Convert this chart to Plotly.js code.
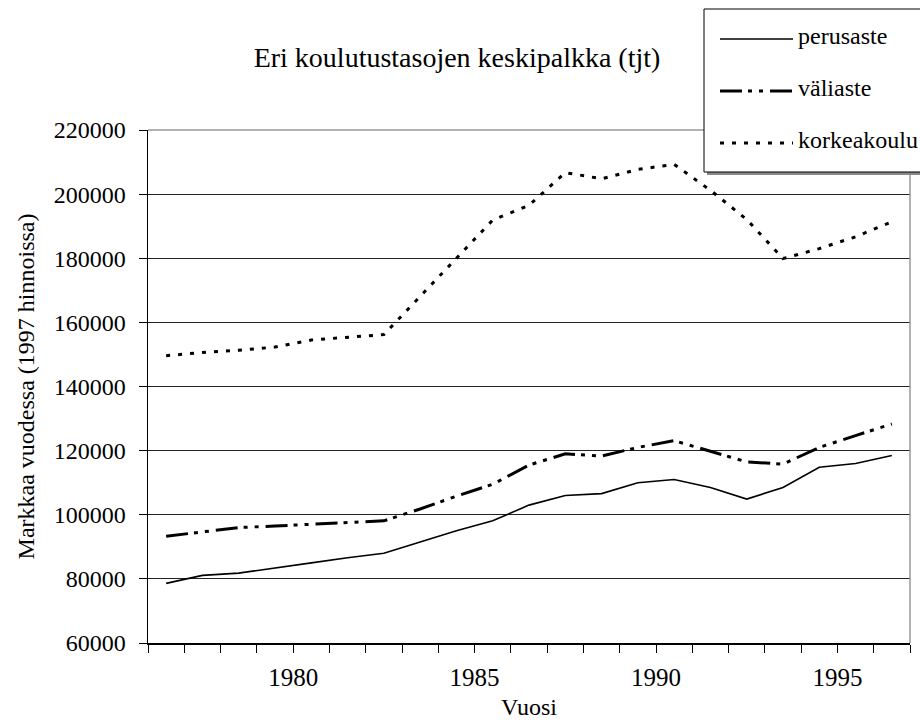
<!DOCTYPE html>
<html>
<head>
<meta charset="utf-8">
<script src="https://cdn.plot.ly/plotly-3.0.1.min.js"></script>
<style>html,body{margin:0;padding:0;background:#fff;}#chart{width:920px;height:725px;}</style>
</head>
<body>
<div id="chart"></div>
<script>
var years = [1977,1978,1979,1980,1981,1982,1983,1984,1985,1986,1987,1988,1989,1990,1991,1992,1993,1994,1995,1996,1997];
var perusaste = [78600,81100,81800,83500,85000,86600,88000,91500,95000,98100,103000,106000,106600,110000,111000,108500,104900,108500,114800,116000,118500];
var valiaste = [93300,94700,96000,96500,97100,97600,98100,101800,105800,109500,115500,119000,118300,121000,123100,119800,116500,115800,121000,124700,128300];
var korkeakoulu = [149600,150600,151300,152300,154500,155400,156200,168100,179900,191900,196500,206700,204800,207700,209300,201200,192100,179900,183000,186700,191400];
var seriesNames = ['perusaste','väliaste','korkeakoulu'];
var yearLabels = ['1980','1985','1990','1995'];

var FONT = 'Liberation Serif, Times New Roman, serif';

// tick boundaries between categories
var tickVals = [], tickText = [];
for (var b = years[0] - 0.5; b <= years[years.length-1] + 0.5; b += 1) {
  tickVals.push(b);
  var lbl = String(Math.floor(b));
  tickText.push(yearLabels.indexOf(lbl) >= 0 ? lbl : '');
}

var dashVali = '22px,6px,4px,7px,4px,7px';
var dashKork = '4px,8px';

var traces = [
  {x: years, y: perusaste, name: seriesNames[0], mode: 'lines', line: {color: '#000', width: 1.6}},
  {x: years, y: valiaste, name: seriesNames[1], mode: 'lines', line: {color: '#000', width: 3, dash: dashVali}},
  {x: years, y: korkeakoulu, name: seriesNames[2], mode: 'lines', line: {color: '#000', width: 3, dash: dashKork}}
];

// manual legend geometry (paper coords relative to plot area)
var L = 148, R = 910, T = 130, B = 643;
function px(x){ return (x - L) / (R - L); }
function py(y){ return (B - y) / (B - T); }

var legendY = [39, 91, 143];
var legendDash = ['solid', dashVali, dashKork];
var legendW = [1.6, 3, 3];

var shapes = [
  // gray plot border top/right
  {type:'line', xref:'paper', yref:'paper', x0:0, x1:1, y0:1, y1:1, line:{color:'#999', width:1.5}, layer:'above'},
  {type:'line', xref:'paper', yref:'paper', x0:1, x1:1, y0:0, y1:1, line:{color:'#999', width:1.5}, layer:'above'},
  // legend shadow
  {type:'rect', xref:'paper', yref:'paper', x0:px(707), x1:px(935), y0:py(175), y1:py(12), line:{width:0}, fillcolor:'#888', layer:'above'},
  // legend box
  {type:'rect', xref:'paper', yref:'paper', x0:px(704), x1:px(930), y0:py(172), y1:py(9), line:{color:'#000', width:1}, fillcolor:'#fff', layer:'above'}
];
var annotations = [];
for (var i = 0; i < 3; i++) {
  shapes.push({type:'line', xref:'paper', yref:'paper', x0:px(720), x1:px(793), y0:py(legendY[i]), y1:py(legendY[i]),
    line:{color:'#000', width:legendW[i], dash:legendDash[i]}, layer:'above'});
  annotations.push({xref:'paper', yref:'paper', x:px(796), y:py(legendY[i] - 3), xanchor:'left', yanchor:'middle',
    text: seriesNames[i], showarrow:false, font:{family:FONT, size:24, color:'#000'}});
}

var layout = {
  width: 920, height: 725,
  margin: {l: L, r: 920 - R, t: T, b: 725 - B, pad: 0},
  paper_bgcolor: '#fff', plot_bgcolor: '#fff',
  showlegend: false,
  font: {family: FONT, color: '#000'},
  title: {text: 'Eri koulutustasojen keskipalkka (tjt)', font: {family: FONT, size: 28, color: '#000'},
          x: 457/920, xanchor: 'center', y: 1 - 57/725, yanchor: 'middle'},
  xaxis: {
    range: [years[0] - 0.5, years[years.length-1] + 0.5],
    tickmode: 'array', tickvals: tickVals, ticktext: tickText,
    ticks: 'outside', ticklen: 8, tickcolor: '#000', tickwidth: 1,
    showgrid: false, zeroline: false,
    showline: true, linecolor: '#000', linewidth: 1.5,
    tickfont: {family: FONT, size: 25, color: '#000'},
    ticklabelstandoff: 3,
    title: {text: 'Vuosi', font: {family: FONT, size: 24, color: '#000'}, standoff: 8}
  },
  yaxis: {
    range: [60000, 220000], tickmode: 'linear', tick0: 60000, dtick: 20000,
    tickformat: 'd',
    ticks: 'outside', ticklen: 8, tickcolor: '#000', tickwidth: 1,
    showgrid: true, gridcolor: '#222', gridwidth: 1,
    zeroline: false, showline: true, linecolor: '#000', linewidth: 1.5,
    tickfont: {family: FONT, size: 24, color: '#000'},
    ticklabelstandoff: 8,
    title: {text: 'Markkaa vuodessa (1997 hinnoissa)', font: {family: FONT, size: 24, color: '#000'}, standoff: 12}
  },
  shapes: shapes,
  annotations: annotations
};

Plotly.newPlot('chart', traces, layout, {displayModeBar: false, staticPlot: true});
</script>
</body>
</html>
